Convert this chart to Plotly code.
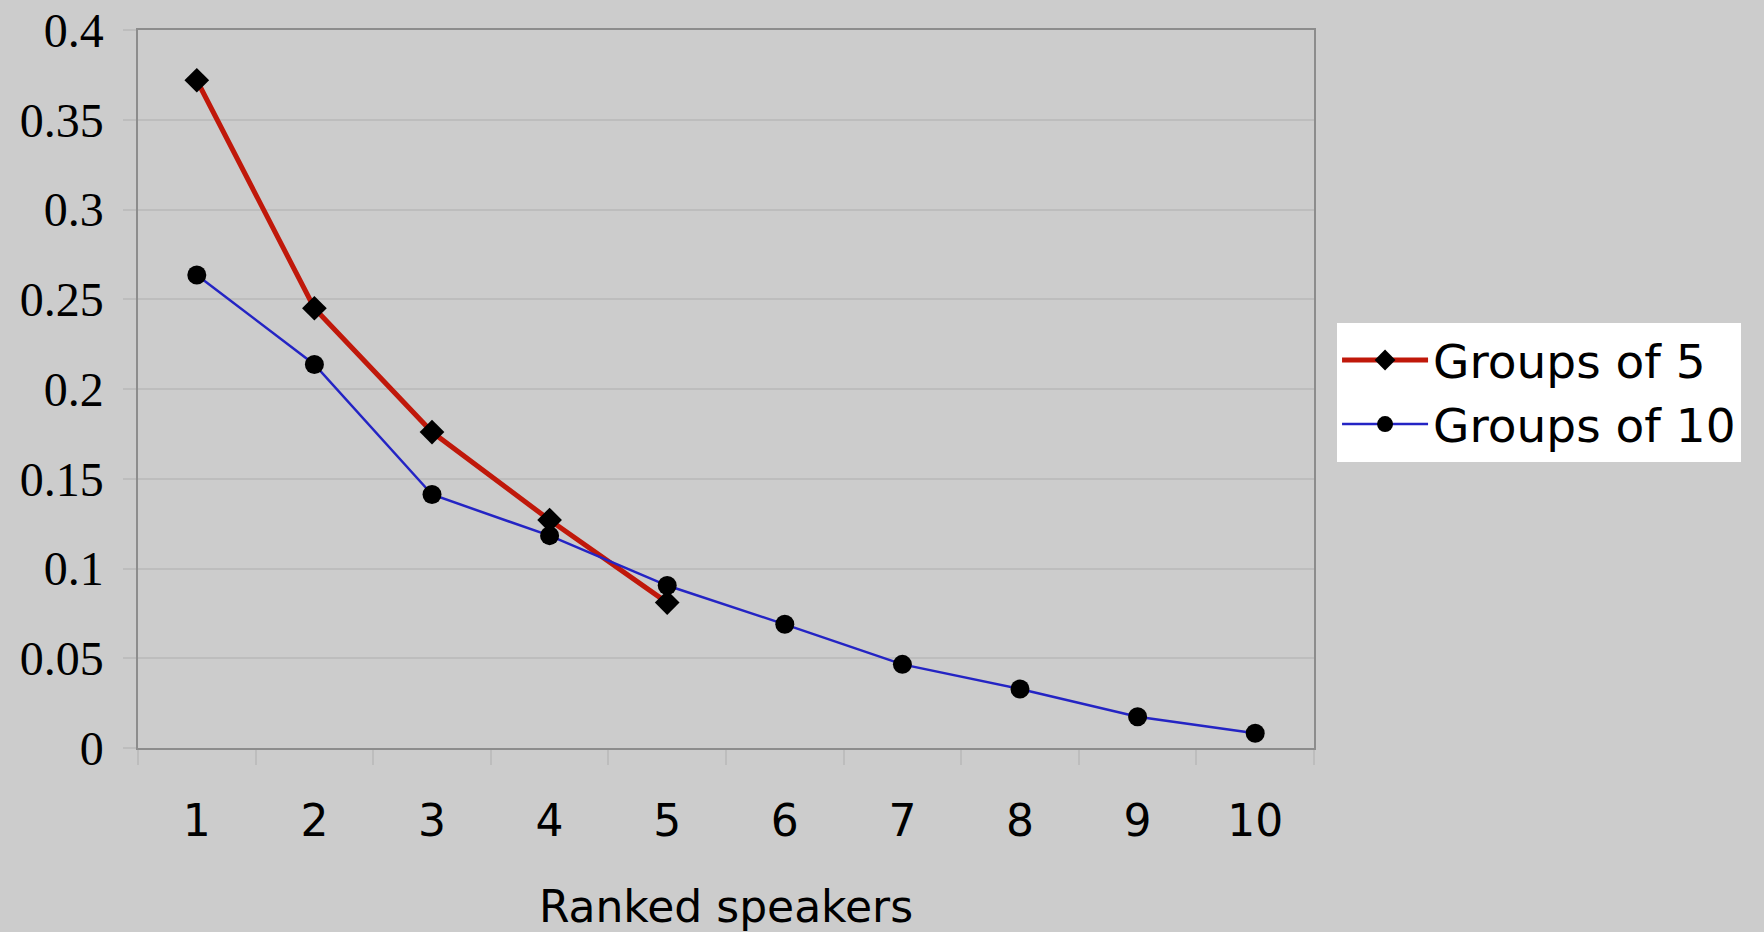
import plotly.graph_objects as go

categories = ["1", "2", "3", "4", "5", "6", "7", "8", "9", "10"]
groups_of_5 = [0.372, 0.245, 0.176, 0.127, 0.081]
groups_of_10 = [0.2635, 0.2137, 0.1412, 0.1183, 0.0905, 0.0689, 0.0466, 0.0329, 0.0174, 0.0082]
y_ticks = [0, 0.05, 0.1, 0.15, 0.2, 0.25, 0.3, 0.35, 0.4]
y_tick_labels = ["0", "0.05", "0.1", "0.15", "0.2", "0.25", "0.3", "0.35", "0.4"]

BG = "#cccccc"
GRID = "#bdbdbd"
BORDER = "#8c8c8c"

fig = go.Figure()
fig.add_trace(go.Scatter(
    x=categories[:len(groups_of_5)], y=groups_of_5, name="Groups of 5",
    mode="lines+markers",
    line=dict(color="#c0180a", width=5),
    marker=dict(symbol="diamond", size=19, color="black"),
))
fig.add_trace(go.Scatter(
    x=categories, y=groups_of_10, name="Groups of 10",
    mode="lines+markers",
    line=dict(color="#2424c4", width=2.5),
    marker=dict(symbol="circle", size=19, color="black"),
))

fig.update_layout(
    width=1764, height=932,
    paper_bgcolor=BG, plot_bgcolor=BG,
    margin=dict(l=138, r=450, t=30, b=184, autoexpand=False),
    showlegend=True,
    legend=dict(
        x=1.0196, y=0.592, xanchor="left", yanchor="top",
        bgcolor="white", borderwidth=0,
        font=dict(family="DejaVu Sans", size=47, color="black"),
        itemwidth=86,
        tracegroupgap=0,
    ),
)
fig.update_xaxes(
    type="category", categoryorder="array", categoryarray=categories,
    range=[-0.5, 9.5], automargin=False,
    tickson="boundaries", ticks="outside", ticklen=15, tickcolor=GRID, tickwidth=2,
    showgrid=False, showline=True, mirror=True, linecolor=BORDER, linewidth=1.5,
    tickfont=dict(family="DejaVu Sans", size=44, color="black"),
    ticklabelstandoff=33,
    title=dict(text="Ranked speakers", font=dict(family="DejaVu Sans", size=44, color="black"), standoff=48),
    zeroline=False,
)
fig.update_yaxes(
    range=[0, 0.4], tickvals=y_ticks, ticktext=y_tick_labels, automargin=False,
    ticks="outside", ticklen=13, tickcolor=GRID, tickwidth=2,
    showgrid=True, gridcolor=GRID, gridwidth=2,
    showline=True, mirror=True, linecolor=BORDER, linewidth=1.5,
    tickfont=dict(family="Liberation Serif", size=48, color="black"),
    ticklabelstandoff=10,
    zeroline=False,
)

fig.write_html(
    "out.html",
    config={"displayModeBar": False},
    post_script="document.body.style.margin='0';document.body.style.overflow='hidden';",
)
